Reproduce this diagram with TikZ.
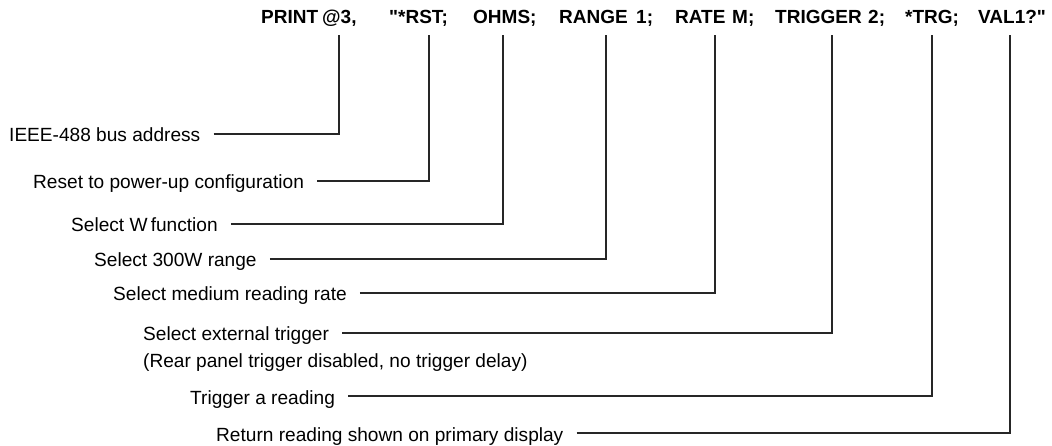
\documentclass[tikz,border=0pt]{standalone}
\usepackage{fontspec}
\setmainfont{Liberation Sans}
\newfontfamily\cmdfont{Liberation Sans}[Ligatures=TeXOff]
\begin{document}
\begin{tikzpicture}[x=1pt,y=-1pt,
  cmd/.style={anchor=base west,inner sep=0pt,font=\cmdfont\fontsize{19}{23}\selectfont\bfseries},
  lab/.style={anchor=base west,inner sep=0pt,font=\fontsize{19.1}{23}\selectfont},
  conn/.style={draw=black!85,line width=1.2pt}]
\useasboundingbox (0,0) rectangle (1052,446);
% command line tokens
\node[cmd] (print) at (261,24) {PRINT};
\node[cmd] (addr)  at (322,24) {@3,};
\node[cmd] (rst)   at (389,24) {"*RST;};
\node[cmd] (ohms)  at (473,24) {OHMS;};
\node[cmd] (range) at (559,24) {RANGE};
\node[cmd] (rone)  at (636,24) {1;};
\node[cmd] (rate)  at (675,24) {RATE};
\node[cmd] (ratem) at (732,24) {M;};
\node[cmd] (trig)  at (775,24) {TRIGGER};
\node[cmd] (trigt) at (868,24) {2;};
\node[cmd] (trg)   at (905,24) {*TRG;};
\node[cmd] (val)   at (978,24) {VAL1?"};
% connector tops
\coordinate (t1) at (339,35);
\coordinate (t2) at (429,35);
\coordinate (t3) at (503,35);
\coordinate (t4) at (606,35);
\coordinate (t5) at (715,35);
\coordinate (t6) at (832,35);
\coordinate (t7) at (932,35);
\coordinate (t8) at (1010,35);
% labels
\node[lab] (l1) at (9,142)   {IEEE-488 bus address};
\node[lab] (l2) at (33,189)  {Reset to power-up configuration};
\node[lab] (l3) at (71,232)  {Select W\,function};
\node[lab] (l4) at (94,267)  {Select 300W range};
\node[lab] (l5) at (113,301) {Select medium reading rate};
\node[lab] (l6) at (143,341) {Select external trigger};
\node[lab] (l6b) at (143,367) {(Rear panel trigger disabled, no trigger delay)};
\node[lab] (l7) at (190,404) {Trigger a reading};
\node[lab] (l8) at (216,441) {Return reading shown on primary display};
% connectors
\draw[conn] ([shift={(13,-8)}]l1.base east) -| (t1);
\draw[conn] ([shift={(13,-8)}]l2.base east) -| (t2);
\draw[conn] ([shift={(13,-8)}]l3.base east) -| (t3);
\draw[conn] ([shift={(13,-8)}]l4.base east) -| (t4);
\draw[conn] ([shift={(13,-8)}]l5.base east) -| (t5);
\draw[conn] ([shift={(13,-8)}]l6.base east) -| (t6);
\draw[conn] ([shift={(13,-8)}]l7.base east) -| (t7);
\draw[conn] ([shift={(13,-8)}]l8.base east) -| (t8);
\end{tikzpicture}
\end{document}
